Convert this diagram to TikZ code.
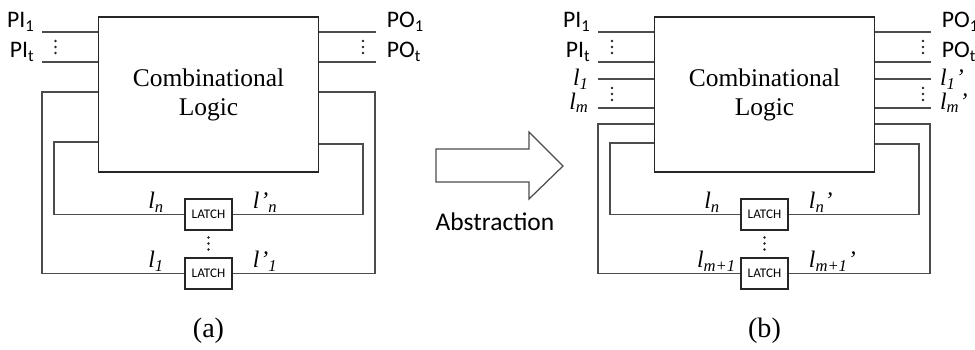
\documentclass[tikz,border=0pt]{standalone}
\usepackage{fontspec}
\setmainfont{Liberation Serif}
\setsansfont{Carlito}
\usetikzlibrary{positioning}
\newcommand{\sig}[1]{\textit{l}\textsubscript{\textit{#1}}}
\newcommand{\sigpre}[1]{\textit{l\kern0.5pt’}\textsubscript{\textit{#1}}}
\newcommand{\sigpost}[1]{\textit{l}\textsubscript{\textit{#1}}\textit{’}}

\tikzset{
  wire/.style={draw=black!70, line width=0.7pt},
  logicbox/.style={draw=black!85, line width=0.7pt, minimum width=4.4cm, minimum height=3.1cm,
    inner sep=0pt, align=center, font=\fontsize{14.5}{16.5}\selectfont},
  latchbox/.style={draw=black!85, line width=0.7pt, minimum width=0.94cm, minimum height=0.62cm,
    inner sep=0pt, font=\sffamily\fontsize{7.5}{9}\selectfont},
  portlab/.style={inner sep=0pt, font=\sffamily\fontsize{13.5}{15}\selectfont},
  siglab/.style={inner sep=0pt, font=\fontsize{13.5}{15}\selectfont},
  caption/.style={font=\fontsize{16}{18}\selectfont},
  vdots/.pic={\foreach \d in {-6,0,6} \fill[black!85] (0,\d) circle (0.026cm);}
}

\begin{document}
\begin{tikzpicture}[x=0.02cm, y=-0.02cm]
\useasboundingbox (0,0) rectangle (975,350);

% ---- (a) ----
\node[logicbox] (boxA) at (208.5,94.5) {Combinational\\Logic};
\node[latchbox] (latchA1) at (208.5,214.5) {LATCH};
\node[latchbox] (latchA2) at (208.5,273.5) {LATCH};

\coordinate (piA1) at (42,32);
\coordinate (piAt) at (42,62);
\coordinate (poA1) at (376,32);
\coordinate (poAt) at (376,62);
\draw[wire] (piA1) -- (piA1 -| boxA.west);
\draw[wire] (piAt) -- (piAt -| boxA.west);
\draw[wire] (poA1 -| boxA.east) -- (poA1);
\draw[wire] (poAt -| boxA.east) -- (poAt);
\node[portlab, above left=0pt and 4pt of piA1] (piA1lab) {PI\textsubscript{1}};
\node[portlab, above left=0pt and 4pt of piAt] (piAtlab) {PI\textsubscript{t}};
\node[portlab, above right=0pt and 6pt of poA1] (poA1lab) {PO\textsubscript{1}};
\node[portlab, above right=0pt and 6pt of poAt] (poAtlab) {PO\textsubscript{t}};
\pic at (55.5,47) {vdots};
\pic at (363,47) {vdots};

% feedback loops
\coordinate (loA) at (42,92);
\coordinate (roA) at (375,92);
\coordinate (liA) at (54,142);
\coordinate (riA) at (363,144);
\draw[wire] (loA -| boxA.west) -- (loA) |- (latchA2.west);
\draw[wire] (latchA2.east) -| (roA) -- (roA -| boxA.east);
\draw[wire] (liA -| boxA.west) -- (liA) |- (latchA1.west);
\draw[wire] (latchA1.east) -| (riA) -- (riA -| boxA.east);
\pic at (208.5,243.5) {vdots};

\node[siglab, above left=1pt and 0.4cm of latchA1.west] (lnA) {\sig{n}};
\node[siglab, above right=1pt and 0.4cm of latchA1.east] (lpnA) {\sigpre{n}};
\node[siglab, above left=1pt and 0.4cm of latchA2.west] (l1A) {\sig{1}};
\node[siglab, above right=1pt and 0.4cm of latchA2.east] (lp1A) {\sigpre{1}};

\node[caption] (capA) at (208.5,331) {(a)};

% ---- arrow ----
\draw[wire, fill=white] (436,149) -- (529,149) -- (529,132) -- (563,166)
  -- (529,199) -- (529,182) -- (436,182) -- cycle;
\node[font=\sffamily\fontsize{14.5}{16}\selectfont] (absLab) at (495,222) {Abstraction};

% ---- (b) ----
\node[logicbox] (boxB) at (764.5,94.5) {Combinational\\Logic};
\node[latchbox] (latchB1) at (764.5,214.5) {LATCH};
\node[latchbox] (latchB2) at (764.5,273.5) {LATCH};

\coordinate (piB1) at (598,32);
\coordinate (piBt) at (598,62);
\coordinate (lB1) at (598,79);
\coordinate (lBm) at (598,108);
\coordinate (poB1) at (931,32);
\coordinate (poBt) at (931,62);
\coordinate (lpB1) at (931,79);
\coordinate (lpBm) at (931,108);
\foreach \p in {piB1,piBt,lB1,lBm}
  \draw[wire] (\p) -- (\p -| boxB.west);
\foreach \p in {poB1,poBt,lpB1,lpBm}
  \draw[wire] (\p -| boxB.east) -- (\p);
\node[portlab, above left=0pt and 4pt of piB1] (piB1lab) {PI\textsubscript{1}};
\node[portlab, above left=0pt and 4pt of piBt] (piBtlab) {PI\textsubscript{t}};
\node[siglab, left=5pt of lB1] (l1B) {\sig{1}};
\node[siglab, above left=-3pt and 5pt of lBm] (lmB) {\sig{m}};
\node[portlab, above right=0pt and 6pt of poB1] (poB1lab) {PO\textsubscript{1}};
\node[portlab, above right=0pt and 6pt of poBt] (poBtlab) {PO\textsubscript{t}};
\node[siglab, right=5pt of lpB1] (lp1B) {\sigpost{1}};
\node[siglab, above right=-3pt and 5pt of lpBm] (lpmB) {\sigpost{m}};
\pic at (612,47) {vdots};
\pic at (612,94) {vdots};
\pic at (923,47) {vdots};
\pic at (923,94) {vdots};

% feedback loops
\coordinate (loB) at (598,124);
\coordinate (roB) at (930,124);
\coordinate (liB) at (610,143);
\coordinate (riB) at (919,144);
\draw[wire] (loB -| boxB.west) -- (loB) |- (latchB2.west);
\draw[wire] (latchB2.east) -| (roB) -- (roB -| boxB.east);
\draw[wire] (liB -| boxB.west) -- (liB) |- (latchB1.west);
\draw[wire] (latchB1.east) -| (riB) -- (riB -| boxB.east);
\pic at (764.5,243.5) {vdots};

\node[siglab, above left=1pt and 0.4cm of latchB1.west] (lnB) {\sig{n}};
\node[siglab, above right=1pt and 0.4cm of latchB1.east] (lpnB) {\sigpost{n}};
\node[siglab, above left=1pt and 0.08cm of latchB2.west] (lm1B) {\sig{m+1}};
\node[siglab, above right=1pt and 0.4cm of latchB2.east] (lpm1B) {\sigpost{m+1}};

\node[caption] (capB) at (764.5,331) {(b)};
\end{tikzpicture}
\end{document}
